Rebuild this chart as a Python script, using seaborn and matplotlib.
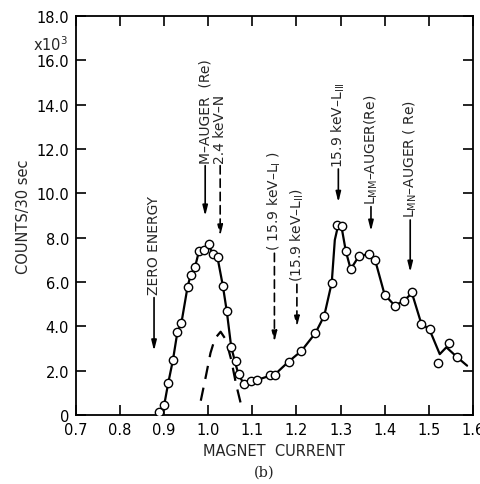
import matplotlib
matplotlib.use("Agg")
import matplotlib.pyplot as plt
import seaborn as sns
import pandas as pd

# ---- data ----
point_x = [0.888, 0.900, 0.909, 0.920, 0.930, 0.939, 0.953, 0.960, 0.970, 0.979,
           0.991, 1.002, 1.011, 1.021, 1.033, 1.042, 1.052, 1.062, 1.069, 1.080,
           1.098, 1.110, 1.140, 1.152, 1.182, 1.211, 1.243, 1.263, 1.280, 1.291,
           1.303, 1.312, 1.323, 1.341, 1.364, 1.379, 1.400, 1.423, 1.443, 1.462,
           1.482, 1.503, 1.522, 1.546, 1.564]
point_y = [0.14, 0.45, 1.43, 2.50, 3.75, 4.15, 5.78, 6.32, 6.68, 7.40,
           7.46, 7.72, 7.27, 7.15, 5.84, 4.68, 3.08, 2.42, 1.85, 1.40,
           1.55, 1.58, 1.82, 1.82, 2.41, 2.89, 3.70, 4.48, 5.97, 8.59,
           8.52, 7.39, 6.58, 7.19, 7.27, 7.00, 5.43, 4.94, 5.15, 5.54,
           4.12, 3.87, 2.33, 3.25, 2.62]

curve_x = [0.893, 0.900, 0.909, 0.920, 0.930, 0.939, 0.953, 0.960, 0.970, 0.979,
           0.991, 1.002, 1.011, 1.021, 1.033, 1.042, 1.052, 1.062, 1.069, 1.080,
           1.098, 1.110, 1.140, 1.152, 1.182, 1.211, 1.243, 1.263, 1.280, 1.287,
           1.295, 1.303, 1.312, 1.323, 1.341, 1.364, 1.379, 1.400, 1.423, 1.443,
           1.462, 1.482, 1.503, 1.525, 1.540, 1.564, 1.587]
curve_y = [0.10, 0.45, 1.43, 2.50, 3.75, 4.15, 5.78, 6.32, 6.68, 7.40,
           7.46, 7.60, 7.27, 7.10, 5.84, 4.68, 3.08, 2.30, 1.80, 1.45,
           1.52, 1.58, 1.78, 1.85, 2.41, 2.89, 3.70, 4.48, 5.97, 7.90,
           8.60, 8.40, 7.39, 6.58, 7.15, 7.27, 6.95, 5.43, 4.94, 5.15,
           5.50, 4.20, 3.80, 2.75, 3.06, 2.62, 2.23]

dash_x = [0.983, 0.995, 1.005, 1.015, 1.028, 1.040, 1.052, 1.063, 1.074]
dash_y = [0.65, 1.80, 2.80, 3.45, 3.76, 3.40, 2.50, 1.40, 0.50]

x_ticks = [0.7, 0.8, 0.9, 1.0, 1.1, 1.2, 1.3, 1.4, 1.5, 1.6]
x_ticklabels = ["0.7", "0.8", "0.9", "1.0", "1.1", "1.2", "1.3", "1.4", "1.5", "1.6"]
y_ticks = [0, 2, 4, 6, 8, 10, 12, 14, 16, 18]
y_ticklabels = ["0", "2.0", "4.0", "6.0", "8.0", "10.0", "12.0", "14.0", "16.0", "18.0"]

# annotations: label, x, text bottom, arrow start, arrow tip, dashed
ann_labels = ["ZERO ENERGY", "M\u2013AUGER  (Re)", "2.4 keV\u2013N",
              "( 15.9 keV\u2013L$_{\\mathrm{I}}$ )", "(15.9 keV\u2013L$_{\\mathrm{II}}$)",
              "15.9 keV\u2013L$_{\\mathrm{III}}$", "L$_{\\mathrm{MM}}$\u2013AUGER(Re)",
              "L$_{\\mathrm{MN}}$\u2013AUGER ( Re)"]
ann_x = [0.877, 0.993, 1.027, 1.150, 1.201, 1.295, 1.369, 1.458]
ann_text_y = [5.45, 11.35, 11.35, 7.45, 6.05, 11.2, 9.5, 8.95]
ann_start_y = [5.3, 11.25, 11.25, 7.3, 5.9, 11.1, 9.4, 8.8]
ann_tip_y = [2.9, 8.98, 8.08, 3.3, 3.97, 9.6, 8.3, 6.45]
ann_dashed = [False, False, True, True, True, False, False, False]

# ---- plotting ----
sns.set_style("ticks")
plt.rcParams["font.family"] = ["DejaVu Sans"]
plt.rcParams["mathtext.fontset"] = "dejavusans"

fig = plt.figure(figsize=(4.81, 4.85), dpi=100)
ax = fig.add_axes([0.158, 0.142, 0.825, 0.823])

curve_df = pd.DataFrame({"x": curve_x, "y": curve_y})
dash_df = pd.DataFrame({"x": dash_x, "y": dash_y})
pts_df = pd.DataFrame({"x": point_x, "y": point_y})

sns.lineplot(data=curve_df, x="x", y="y", ax=ax, color="black", lw=1.6,
             sort=False, estimator=None)
sns.lineplot(data=dash_df, x="x", y="y", ax=ax, color="black", lw=1.6,
             sort=False, estimator=None, linestyle=(0, (6, 4)))
sns.scatterplot(data=pts_df, x="x", y="y", ax=ax, marker="o", s=36,
                facecolor="white", edgecolor="black", linewidth=1.0, zorder=5)

ax.set_xlim(0.7, 1.588)
ax.set_ylim(0, 18)
ax.set_xticks(x_ticks)
ax.set_xticklabels(x_ticklabels)
ax.set_yticks(y_ticks)
ax.set_yticklabels(y_ticklabels)
ax.tick_params(direction="in", length=7, width=1.2, top=True, right=True,
               labelsize=10.5, pad=5, colors="black")
for s in ax.spines.values():
    s.set_linewidth(1.3)
    s.set_color("black")

ax.set_xlabel("MAGNET  CURRENT", fontsize=10.5, labelpad=4)
ax.set_ylabel("COUNTS/30 sec", fontsize=10.5, labelpad=4)
fig.text(0.105, 0.908, "x10$^3$", fontsize=10.5, ha="center", va="center")
fig.text(0.55, 0.012, "(b)", fontsize=10.5, ha="center", va="bottom",
         family="DejaVu Serif")

for lab, x, ty, sy, tip, dashed in zip(ann_labels, ann_x, ann_text_y,
                                       ann_start_y, ann_tip_y, ann_dashed):
    ax.text(x, ty, lab, rotation=90, ha="center", va="bottom", fontsize=10)
    ax.annotate("", xy=(x, tip), xytext=(x, sy),
                arrowprops=dict(arrowstyle="-|>,head_length=0.6,head_width=0.15",
                                color="black", lw=1.2,
                                linestyle=(0, (5, 3)) if dashed else "-",
                                shrinkA=0, shrinkB=0))

fig.savefig("out.png", dpi=100, facecolor="white")
